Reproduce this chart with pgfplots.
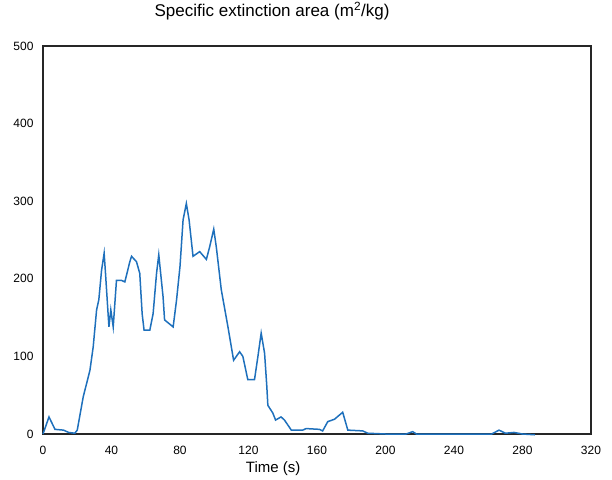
\documentclass[border=0pt]{standalone}
\usepackage{fontspec}
\setmainfont{Liberation Sans}
\usepackage{pgfplots}
\pgfplotsset{compat=1.18}
\definecolor{lineblue}{RGB}{30,112,188}
\begin{document}
\begin{tikzpicture}
\begin{axis}[
  at={(0,0)}, anchor=south west,
  scale only axis, width=548pt, height=388pt,
  xmin=0, xmax=320, ymin=0, ymax=500,
  xtick={0,40,...,320}, ytick={0,100,...,500},
  major tick length=0pt,
  axis line style={black!85, line width=1.4pt},
  /pgf/number format/assume math mode=true,
  ticklabel style={font=\fontsize{12}{14}\selectfont},
  xticklabel style={anchor=center, yshift=-16pt},
  yticklabel style={anchor=east, xshift=-6pt},
  title={Specific extinction area (m\textsuperscript{2}/kg)},
  title style={at={(0.418,1)}, anchor=center, yshift=29pt, font=\fontsize{17}{19}\selectfont},
  xlabel={Time (s)},
  xlabel style={at={(0.42,0)}, anchor=center, yshift=-35pt, font=\fontsize{15}{17}\selectfont},
  clip=false,
]
\addplot[lineblue, line width=1.5pt] coordinates {
(0,0) (3.5,22) (7,6) (12,5) (15,2) (18.6,1) (20,5) (23.5,48) (27.4,82) (29.3,112)
(31.3,160) (32.6,173) (34.2,211) (35.7,233) (36.5,207) (38.5,138) (39.6,160) (41,138)
(42.9,198) (45.8,198) (47.8,196) (50.7,222) (51.7,229) (54.6,222) (56.5,207) (57.9,155)
(59,134) (62.4,134) (64.3,155) (66.3,207) (67.6,231) (70.1,177) (71,147) (76,138)
(78,173) (80,216) (81.8,276) (83.7,297) (85.3,276) (87.6,229) (91.5,235) (95.4,225)
(97.3,241) (99.7,264) (101.2,241) (104.1,186) (108,138) (111.3,95) (114.8,106) (116.7,100)
(119.6,70) (123.5,70) (125.5,100) (127.4,130) (129.4,104) (130.7,61) (131.3,37) (134.2,27)
(135.8,18) (139,22) (141,18) (145,5) (151.7,5) (153.6,7) (161.4,6) (163.3,4)
(166.3,16) (170.2,19) (175,28) (178,5) (186.7,4) (189.6,1) (200,0) (212,0)
(215.9,3) (218,0) (240,0) (262,0) (266.3,5) (270,1) (275,2) (280,0) (287.3,-1)
};
\end{axis}
\pgfresetboundingbox
\path[use as bounding box] (-43pt,-45pt) rectangle (569pt,434pt);
\end{tikzpicture}
\end{document}
